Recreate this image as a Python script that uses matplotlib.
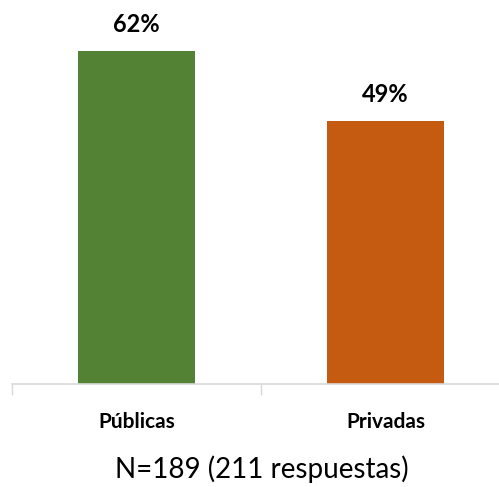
import matplotlib
matplotlib.use("Agg")
import matplotlib.pyplot as plt

# data
categorias = ["Públicas", "Privadas"]
valores = [62, 49]
colores = ["#548235", "#C55A11"]
nota = "N=189 (211 respuestas)"

plt.rcParams['font.family'] = ['Lato', 'DejaVu Sans']

fig = plt.figure(figsize=(4.99, 4.87), dpi=100)
ax = fig.add_axes([12 / 499, 103 / 487, 498 / 499, 376 / 487])

x = list(range(len(categorias)))
barras = ax.bar(x, valores, width=0.47, color=colores)

# etiquetas de valor sobre cada barra
for b, v in zip(barras, valores):
	ax.annotate("{}%".format(v), (b.get_x() + b.get_width() / 2, v),
		xytext=(0, 19), textcoords="offset points", ha="center", va="center",
		fontsize=17, fontweight="bold", color="#000000")

ax.set_xlim(-0.5, 1.5)
ax.set_ylim(0, 70)
ax.set_yticks([])
ax.set_xticks([-0.5, 0.5, 1.5], minor=False)
ax.set_xticklabels([])
ax.set_xticks(x, minor=True)
ax.set_xticklabels(categorias, minor=True, fontsize=15, fontweight="bold")
ax.tick_params(axis="x", which="major", length=8, color="#d9d9d9", width=1)
ax.tick_params(axis="x", which="minor", length=0, pad=20)

for s in ["top", "right", "left"]:
	ax.spines[s].set_visible(False)
ax.spines["bottom"].set_color("#d9d9d9")
ax.spines["bottom"].set_linewidth(1.2)

fig.text(262 / 499, 1 - 469 / 487, nota, ha="center", va="center", fontsize=20)

fig.savefig("out.png", dpi=100)
